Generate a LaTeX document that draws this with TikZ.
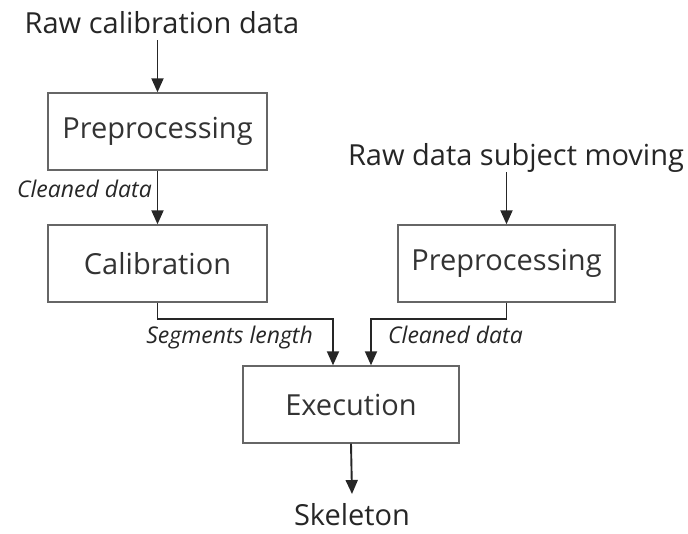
\documentclass[tikz,border=0pt]{standalone}
\usepackage{fontspec}
\setmainfont{Open Sans}
\usetikzlibrary{arrows.meta}
\begin{document}
\begin{tikzpicture}[x=1pt,y=-1pt,
 box/.style={draw=black!60, line width=1.4pt, inner sep=0pt, font=\fontsize{29}{32}\selectfont, text=black!80},
 title/.style={font=\fontsize{29}{32}\selectfont, text=black!85, inner sep=0pt},
 lab/.style={font=\itshape\fontsize{23}{26}\selectfont, text=black!85, inner sep=0pt},
 arr/.style={draw=black!85, line width=1.9pt, -{Triangle[length=14pt,width=12pt]}}
]
\useasboundingbox (0,0) rectangle (688,533);
\node[title, anchor=base] (raw1) at (162,33) {Raw calibration data};
\node[box, minimum width=219pt, minimum height=77pt] (pre1) at (157.5,131.5) {Preprocessing};
\node[box, minimum width=219pt, minimum height=77pt] (cal) at (157.5,263.5) {Calibration};
\node[title, anchor=base] (raw2) at (516,165) {Raw data subject moving};
\node[box, minimum width=217pt, minimum height=77pt] (pre2) at (506.5,263.5) {Preprocessing};
\node[box, minimum width=216pt, minimum height=77pt] (exe) at (351,404.5) {Execution};
\node[title, anchor=base] (skel) at (352,525) {Skeleton};
\node[lab, anchor=base east] (l1) at (152,197) {Cleaned data};
\node[lab, anchor=base east] (l2) at (313,343) {Segments length};
\node[lab, anchor=base west] (l3) at (388,343) {Cleaned data};
\coordinate (s1) at (157.5,40);
\coordinate (s2) at (506.5,172);
\coordinate (j1) at (333,319);
\coordinate (j2) at (371,319);
\coordinate (e1) at (352,494);
\draw[arr] (s1) -- (pre1.north);
\draw[arr] (pre1.south) -- (cal.north);
\draw[arr] (s2) -- (pre2.north);
\draw[arr] (cal.south) |- (j1) -- (j1 |- exe.north);
\draw[arr] (pre2.south) |- (j2) -- (j2 |- exe.north);
\draw[arr] (exe.south) -- (e1);
\end{tikzpicture}
\end{document}
